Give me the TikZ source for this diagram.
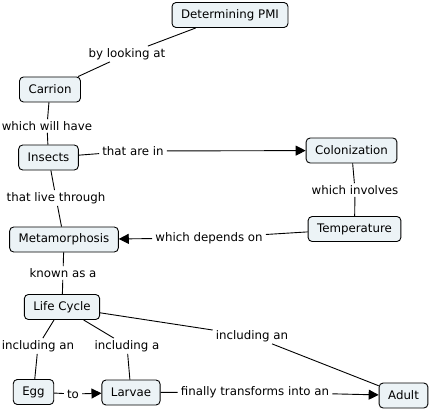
\documentclass[tikz,border=0pt]{standalone}
\usepackage{fontspec}
\setmainfont{DejaVu Sans}
\usetikzlibrary{arrows.meta}
\definecolor{boxfill}{RGB}{236,243,246}
\tikzset{
  concept/.style={draw=black, fill=boxfill, rounded corners=4pt, line width=0.9pt,
    minimum height=25pt, inner xsep=9pt, inner ysep=3pt, font=\fontsize{11.8}{14}\selectfont},
  linklabel/.style={inner xsep=3pt, inner ysep=2pt, font=\fontsize{11.8}{14}\selectfont},
  conn/.style={line width=0.9pt, draw=black},
  arr/.style={conn, -{Triangle[length=10pt,width=10pt]}}
}
\begin{document}
\begin{tikzpicture}[x=1pt,y=-1pt]
\useasboundingbox (0,0) rectangle (433,409);
% concepts
\node[concept] (pmi) at (230,15) {Determining PMI};
\node[concept] (carrion) at (50,89.5) {Carrion};
\node[concept] (insects) at (48.5,157.5) {Insects};
\node[concept] (colon) at (351.5,150.5) {Colonization};
\node[concept] (temp) at (354.5,229) {Temperature};
\node[concept] (meta) at (64,239.5) {Metamorphosis};
\node[concept] (life) at (62,307) {Life Cycle};
\node[concept] (egg) at (33.5,392) {Egg};
\node[concept] (larvae) at (131,392.5) {Larvae};
\node[concept] (adult) at (403.5,395.5) {Adult};
% link labels
\node[linklabel] (l1) at (127,54) {by looking at};
\node[linklabel] (l2) at (47,126) {which will have};
\node[linklabel] (l3) at (133,151) {that are in};
\node[linklabel] (l4) at (355,190) {which involves};
\node[linklabel] (l5) at (209,238) {which depends on};
\node[linklabel] (l6) at (56,198) {that live through};
\node[linklabel] (l7) at (63,273) {known as a};
\node[linklabel] (l8) at (38,346) {including an};
\node[linklabel] (l9) at (127,346) {including a};
\node[linklabel] (l10) at (252,336) {including an};
\node[linklabel] (l11) at (73,394) {to};
\node[linklabel] (l12) at (255,392) {finally transforms into an};
% connectors
\draw[conn] (pmi) -- (l1);
\draw[conn] (l1) -- (carrion);
\draw[conn] (carrion) -- (l2);
\draw[conn] (l2) -- (insects);
\draw[conn] (insects) -- (l3);
\draw[arr] (l3) -- (colon);
\draw[conn] (colon) -- (l4);
\draw[conn] (l4) -- (temp);
\draw[conn] (temp) -- (l5);
\draw[arr] (l5) -- (meta);
\draw[conn] (insects) -- (l6);
\draw[conn] (l6) -- (meta);
\draw[conn] (meta) -- (l7);
\draw[conn] (l7) -- (life);
\draw[conn] (life) -- (l8);
\draw[conn] (l8) -- (egg);
\draw[conn] (life) -- (l9);
\draw[conn] (l9) -- (larvae);
\draw[conn] (life) -- (l10);
\draw[conn] (l10) -- (adult);
\draw[conn] (egg) -- (l11);
\draw[arr] (l11) -- (larvae);
\draw[conn] (larvae) -- (l12);
\draw[arr] (l12) -- (adult);
\end{tikzpicture}
\end{document}
